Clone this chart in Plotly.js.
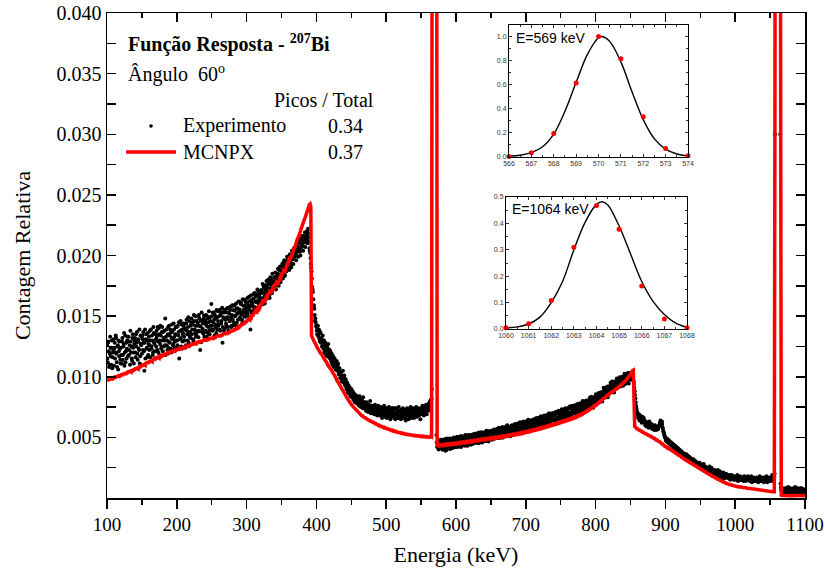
<!DOCTYPE html>
<html>
<head>
<meta charset="utf-8">
<script src="https://cdn.plot.ly/plotly-3.0.1.min.js"></script>
<style>
  html, body { margin: 0; padding: 0; background: #fff; }
  #chart { width: 825px; height: 574px; }
</style>
</head>
<body>
<div id="chart"></div>
<script>
// Spectrum channels are 0.5 keV wide starting at 100 keV; whole-keV channels and
// half-keV channels are kept in two arrays.
const startKeV = 100;
const countUnit = 1e-5; // counts below are stored in units of 1e-5

// Experimental relative counts (black points) at 100, 101, ... 1100 keV
const expCounts = [
  1260,1120,1290,1080,1190,1240,1100,1300,1160,1215,
  1090,1280,1200,1320,1120,1250,1060,1210,1290,1140,
  1240,1110,1320,1180,1270,1090,1340,1210,1150,1300,
  1170,1330,1220,1100,1290,1250,1130,1350,1200,1270,
  1320,1160,1250,1370,1140,1290,1220,1110,1340,1260,
  1190,1310,1370,1210,1280,1150,1350,1240,1300,1180,
  1330,1260,1160,1390,1230,1300,1200,1360,1270,1150,
  1310,1380,1220,1290,1400,1180,1270,1340,1250,1410,
  1210,1320,1380,1260,1180,1390,1300,1350,1240,1420,
  1280,1360,1200,1430,1310,1270,1390,1240,1350,1300,
  1410,1260,1340,1450,1230,1380,1320,1430,1290,1360,
  1440,1300,1390,1260,1470,1350,1410,1280,1460,1370,
  1320,1480,1390,1430,1290,1460,1360,1500,1340,1420,
  1445,1325,1485,1375,1415,1285,1465,1395,1355,1505,
  1370,1440,1510,1330,1480,1410,1540,1350,1460,1390,
  1500,1380,1450,1530,1340,1480,1410,1550,1390,1460,
  1430,1550,1380,1510,1460,1570,1410,1530,1480,1400,
  1530,1420,1490,1570,1380,1520,1460,1580,1410,1510,
  1475,1585,1425,1545,1505,1605,1445,1565,1525,1415,
  1555,1475,1615,1515,1445,1585,1535,1635,1495,1565,
  1540,1650,1570,1490,1620,1580,1670,1530,1610,1520,
  1645,1565,1685,1535,1615,1675,1555,1705,1595,1655,
  1585,1715,1645,1765,1625,1695,1605,1755,1675,1735,
  1690,1800,1730,1650,1820,1760,1710,1850,1780,1740,
  1790,1860,1720,1830,1770,1890,1750,1840,1910,1800,
  1850,1930,1810,1900,1960,1840,1920,1870,1990,1890,
  1940,1880,2010,1950,1900,2040,1970,1930,2060,2000,
  2020,1960,2080,2030,1990,2110,2050,2000,2130,2070,
  2100,2040,2150,2110,2070,2190,2130,2100,2220,2150,
  2060,2020,1930,1870,1740,1700,1580,1560,1460,1450,
  1410,1350,1420,1330,1380,1290,1360,1300,1250,1340,
  1230,1300,1210,1280,1180,1250,1200,1270,1160,1220,
  1210,1130,1190,1100,1170,1080,1150,1120,1060,1130,
  1050,1110,1020,1070,990,1040,960,1010,1050,950,
  1010,930,980,900,950,870,930,860,910,840,
  900,830,880,810,860,790,850,830,780,840,
  820,760,840,790,750,810,770,830,740,790,
  780,720,790,750,710,770,740,800,700,760,
  760,700,740,690,770,720,750,680,740,710,
  730,680,750,700,660,740,710,760,670,720,
  740,660,710,680,750,690,650,720,700,740,
  670,730,700,650,740,690,720,660,750,680,
  710,650,730,690,740,660,700,720,640,710,
  740,680,650,720,700,750,660,710,690,730,
  660,720,700,750,670,710,740,680,720,650,
  730,690,760,710,680,740,720,770,690,750,
  720,780,740,800,760,820,6500,30000,50000,60000,
  55000,20000,520,420,470,400,450,410,480,430,
  460,400,480,430,470,390,450,490,420,460,
  430,490,440,470,410,480,450,500,420,470,
  490,430,480,450,500,440,470,420,510,460,
  450,500,470,430,510,460,490,440,520,470,
  500,460,520,480,450,510,490,530,460,500,
  470,520,490,540,480,510,460,530,500,480,
  530,490,520,470,540,510,550,480,520,500,
  540,500,550,510,530,490,560,520,540,500,
  560,510,540,570,520,550,500,560,530,580,
  530,570,550,590,520,560,540,580,510,570,
  590,550,580,540,600,560,590,530,580,570,
  560,610,580,550,620,590,570,610,560,600,
  620,580,610,570,630,600,580,640,590,610,
  590,640,610,580,650,620,600,660,610,630,
  650,610,660,620,600,670,630,650,610,680,
  640,670,620,690,650,630,680,640,700,660,
  690,640,680,710,650,700,660,720,670,690,
  670,720,690,650,730,700,680,740,690,710,
  730,690,740,700,680,750,710,760,700,730,
  710,760,730,770,720,750,700,780,740,760,
  770,730,790,750,720,780,760,800,740,790,
  760,810,780,820,770,800,750,830,790,810,
  820,790,840,810,860,830,800,870,840,860,
  840,880,860,900,850,890,870,920,880,910,
  890,930,910,950,900,940,920,960,930,950,
  960,930,970,950,990,940,980,960,1000,970,
  990,960,1010,980,1020,990,970,1030,1000,1010,
  990,1030,1000,1020,970,940,880,820,760,720,
  700,660,690,640,680,650,620,670,640,660,
  640,600,630,590,620,610,580,630,600,590,
  610,570,600,590,560,600,580,560,590,570,
  580,600,620,640,610,630,580,550,530,510,
  500,470,490,460,480,450,470,440,460,430,
  450,420,440,410,430,400,420,390,410,400,
  400,380,390,360,380,350,370,340,360,350,
  360,330,350,320,340,310,330,300,320,310,
  320,290,310,280,300,270,290,280,260,290,
  280,250,270,240,260,280,240,260,230,250,
  250,220,240,260,210,230,250,200,230,220,
  230,200,220,190,210,230,180,200,220,190,
  200,170,190,210,160,190,180,200,170,190,
  180,160,190,150,170,190,160,180,150,170,
  180,150,170,190,140,170,160,180,150,170,
  150,170,140,180,160,140,170,150,180,160,
  170,140,160,180,130,160,150,170,140,160,
  140,170,150,130,160,180,140,160,150,170,
  160,130,170,150,140,180,130,160,150,170,
  150,170,140,190,160,180,170,3000,18000,30000,
  36000,40000,38000,30000,9000,120,70,60,80,50,
  70,50,80,60,40,70,90,50,60,80,
  60,40,70,80,50,60,90,50,70,60,
  80,50,60,70,40,80,60,50,70,60,
  70
];

// Experimental relative counts at the half-keV channels 100.5, 101.5, ... 1099.5 keV
const expHalfCounts = [
  1150,1280,1210,1100,1330,1170,1240,1070,1200,1310,
  1230,1150,1340,1190,1080,1260,1300,1170,1230,1110,
  1180,1290,1140,1250,1360,1200,1120,1280,1230,1330,
  1290,1180,1260,1380,1200,1150,1320,1240,1110,1300,
  1200,1350,1280,1190,1310,1230,1390,1170,1270,1330,
  1340,1220,1280,1050,1390,1310,1230,1160,1360,1270,
  1220,1380,1300,1250,1340,1180,1410,1280,1210,1350,
  1250,1330,1410,1200,1350,1300,1420,1230,1370,1300,
  1370,1250,1300,1480,1330,1260,1220,1410,1290,1340,
  1390,1230,1320,1370,1260,1440,1330,1290,1410,1230,
  1300,1420,1370,1150,1310,1460,1250,1390,1350,1420,
  1330,1400,1240,1440,1380,1300,1490,1360,1330,1420,
  1430,1350,1450,1310,1510,1390,1420,1330,1460,1370,
  1380,1510,1420,1220,1460,1530,1370,1440,1480,1330,
  1460,1380,1420,1500,1360,1450,1380,1490,1420,1600,
  1420,1530,1390,1470,1510,1430,1360,1490,1540,1420,
  1500,1390,1530,1440,1560,1280,1490,1380,1550,1470,
  1440,1560,1480,1410,1530,1460,1550,1490,1420,1590,
  1550,1450,1590,1500,1420,1560,1520,1470,1620,1540,
  1490,1600,1530,1470,1640,1550,1500,1590,1620,1520,
  1610,1520,1590,1660,1550,1390,1630,1600,1540,1680,
  1580,1690,1620,1660,1570,1720,1630,1600,1680,1620,
  1700,1630,1690,1600,1740,1660,1720,1680,1790,1710,
  1760,1710,1670,1780,1730,1800,1690,1770,1730,1820,
  1740,1820,1800,1760,1850,1800,1880,1810,1780,1870,
  1880,1820,1940,1860,1830,1920,1890,1950,1910,1970,
  1910,1990,1920,2000,1970,1930,2010,2050,1990,2030,
  2060,2000,2100,2060,2130,2070,2030,2140,2090,2160,
  2080,2160,2120,2190,2130,2160,2200,2120,2180,2110,
  2040,1980,1900,1810,1720,1640,1590,1510,1480,1420,
  1380,1420,1340,1390,1310,1370,1280,1320,1290,1270,
  1270,1200,1260,1220,1240,1170,1230,1190,1210,1150,
  1160,1180,1110,1140,1120,1100,1090,1060,1100,1080,
  1090,1060,1040,1020,1030,990,1000,980,970,990,
  960,970,920,940,890,910,880,900,870,860,
  860,870,840,820,830,840,800,810,820,790,
  780,800,810,760,780,790,740,790,770,750,
  750,760,730,770,740,730,760,720,750,740,
  720,740,710,760,700,730,720,710,760,690,
  700,720,690,730,710,690,680,720,700,740,
  700,720,680,730,670,720,700,680,740,670,
  710,680,740,690,700,660,720,700,680,720,
  680,720,670,700,690,720,680,660,730,690,
  690,710,700,670,730,680,720,700,740,670,
  710,680,730,690,720,680,700,730,690,740,
  700,740,710,690,750,720,700,730,760,720,
  760,750,790,770,810,900,15000,40000,55000,58000,
  40000,6000,460,450,430,460,420,470,440,450,
  400,475,430,485,410,460,395,470,440,480,
  480,405,465,425,490,415,475,435,495,420,
  445,505,420,475,500,435,510,425,485,455,
  435,510,465,520,445,495,430,505,475,515,
  515,440,500,460,525,450,510,470,530,455,
  477,537,452,507,532,467,542,457,517,487,
  470,545,500,555,480,530,465,540,510,550,
  555,480,540,500,565,490,550,510,570,495,
  520,580,495,550,575,510,585,500,560,530,
  515,590,545,600,525,575,510,585,555,595,
  600,525,585,545,610,535,595,555,615,540,
  565,625,540,595,620,555,630,545,605,575,
  560,635,590,645,570,620,555,630,600,640,
  647,572,632,592,657,582,642,602,662,587,
  615,675,590,645,670,605,680,595,655,625,
  613,688,643,698,623,673,608,683,653,693,
  702,627,687,647,712,637,697,657,717,642,
  672,732,647,702,727,662,737,652,712,682,
  672,747,702,757,682,732,667,742,712,752,
  765,690,750,710,775,700,760,720,780,705,
  740,800,715,770,795,730,805,720,780,750,
  750,825,780,835,760,810,745,820,790,830,
  855,780,840,800,865,790,850,810,870,795,
  850,910,825,880,905,840,915,830,890,860,
  875,950,905,960,885,935,870,945,915,955,
  985,910,970,930,995,920,980,940,1000,925,
  965,1025,940,995,1020,955,1030,945,1005,975,
  1010,1000,1030,1000,960,910,850,790,740,710,
  680,670,660,660,650,660,640,650,630,640,
  620,620,610,610,600,600,600,610,590,600,
  590,590,580,580,590,570,580,570,580,570,
  590,600,610,620,600,610,570,540,520,500,
  480,480,470,470,460,460,450,450,440,440,
  430,430,420,420,410,410,400,400,400,390,
  390,370,380,370,360,360,350,360,340,350,
  340,340,330,330,320,320,320,310,310,300,
  300,300,300,290,280,290,270,280,270,270,
  260,270,250,260,250,250,250,240,240,240,
  230,240,230,220,230,220,220,220,210,210,
  210,210,200,210,200,200,200,190,190,190,
  180,190,180,180,190,170,170,180,180,170,
  170,170,160,170,160,160,170,160,160,160,
  160,160,150,160,160,150,160,150,160,150,
  160,150,160,150,160,150,150,160,150,150,
  150,150,150,140,160,140,150,150,140,150,
  160,140,150,150,140,150,160,140,150,140,
  150,160,140,150,160,140,150,160,150,140,
  160,150,160,150,170,160,200,8000,25000,34000,
  39000,41000,36000,22000,3000,90,60,70,50,60,
  60,70,50,80,60,50,70,60,70,50,
  70,60,50,70,60,80,50,60,70,60,
  50,70,60,80,60,50,70,60,50,70
];

// MCNPX simulated relative counts (red line) at 100, 101, ... 1100 keV
const mcnpxCounts = [
  960,980,965,990,975,985,1000,970,995,985,
  990,1005,985,1010,1000,995,1015,1000,1020,1005,
  1010,1025,1005,1030,1020,1015,1035,1025,1040,1030,
  1035,1050,1030,1055,1045,1040,1060,1050,1065,1055,
  1060,1075,1055,1080,1070,1065,1090,1075,1095,1085,
  1090,1105,1085,1110,1100,1095,1120,1105,1125,1110,
  1120,1135,1115,1140,1130,1125,1150,1135,1155,1140,
  1150,1165,1145,1170,1160,1155,1180,1165,1185,1170,
  1175,1190,1170,1195,1185,1180,1200,1190,1210,1195,
  1200,1215,1195,1220,1205,1200,1225,1210,1230,1215,
  1220,1235,1215,1240,1225,1220,1245,1230,1250,1235,
  1240,1255,1235,1260,1245,1240,1265,1250,1270,1255,
  1260,1275,1255,1280,1265,1260,1285,1270,1290,1275,
  1280,1295,1275,1300,1285,1280,1305,1290,1310,1295,
  1295,1310,1290,1315,1300,1295,1320,1305,1325,1310,
  1310,1325,1305,1330,1320,1315,1340,1325,1345,1330,
  1330,1345,1325,1350,1340,1335,1360,1345,1365,1350,
  1350,1365,1345,1370,1360,1355,1380,1365,1385,1370,
  1370,1390,1375,1400,1390,1385,1410,1400,1420,1405,
  1410,1430,1415,1440,1430,1425,1450,1440,1460,1450,
  1455,1475,1460,1485,1475,1470,1495,1490,1510,1500,
  1515,1535,1520,1545,1540,1535,1560,1555,1575,1570,
  1590,1610,1595,1620,1615,1610,1640,1635,1655,1650,
  1670,1690,1675,1700,1695,1690,1720,1715,1735,1730,
  1750,1770,1755,1780,1775,1770,1800,1800,1820,1815,
  1840,1860,1850,1875,1870,1870,1900,1905,1925,1925,
  1950,1970,1965,1990,1995,2000,2030,2035,2060,2065,
  2090,2110,2115,2140,2150,2160,2185,2195,2220,2230,
  2250,2270,2280,2300,2315,2335,2355,2370,2395,2410,
  2420,2425,2400,1340,1320,1310,1300,1290,1275,1265,
  1255,1243,1232,1226,1211,1206,1193,1190,1174,1171,
  1160,1148,1141,1133,1121,1116,1099,1096,1081,1076,
  1070,1058,1052,1038,1032,1018,1012,998,992,974,
  966,958,947,938,927,913,907,893,887,873,
  866,853,847,833,822,813,802,793,787,778,
  771,763,757,748,742,733,727,720,717,708,
  706,698,697,688,687,678,678,670,670,662,
  662,654,654,648,648,640,642,634,636,628,
  630,622,624,616,618,610,612,604,606,598,
  600,594,594,588,590,584,586,578,582,574,
  577,570,572,566,568,562,564,558,560,554,
  558,550,554,546,550,543,546,540,542,538,
  540,534,538,531,534,528,532,526,529,524,
  527,522,524,520,522,518,521,516,519,514,
  518,513,516,511,515,510,513,508,512,507,
  511,506,510,505,509,504,508,503,507,502,
  506,501,505,500,504,502,6000,30000,60000,70000,
  60000,15000,460,430,434,430,435,431,436,432,
  433,439,435,440,436,442,437,443,439,444,
  440,446,442,447,443,449,444,450,446,451,
  446,452,448,454,450,456,452,458,454,459,
  454,460,456,462,458,464,460,466,462,467,
  463,469,465,471,467,473,469,475,471,476,
  472,478,474,480,476,482,478,484,480,485,
  481,487,483,489,485,490,486,492,488,493,
  489,495,491,496,492,498,494,500,496,501,
  497,503,499,505,501,507,503,509,505,511,
  507,513,509,515,511,517,513,519,515,521,
  517,523,519,525,521,527,524,530,526,532,
  528,534,530,537,533,539,535,542,538,544,
  541,547,544,550,546,553,549,555,552,558,
  555,561,558,564,561,567,564,570,567,573,
  570,577,573,580,576,583,580,586,583,590,
  587,594,590,597,594,600,597,604,601,607,
  604,611,608,614,611,618,615,621,618,625,
  622,629,626,633,630,637,633,640,637,644,
  641,648,645,652,649,657,654,661,658,665,
  662,670,667,675,672,680,678,685,683,690,
  688,696,695,703,702,710,709,717,716,724,
  723,731,731,739,739,747,747,755,755,763,
  763,772,772,781,781,790,790,799,799,808,
  813,821,822,830,831,839,840,848,849,857,
  858,866,866,874,874,882,882,890,890,898,
  898,907,908,917,918,927,928,937,938,947,
  948,958,960,970,972,982,986,998,1002,1014,
  1020,1034,1042,1052,1055,610,590,585,575,572,
  572,564,565,557,558,550,551,543,544,536,
  537,530,531,524,525,518,519,512,513,506,
  507,499,500,492,493,485,486,478,479,471,
  472,463,463,454,454,445,445,436,436,427,
  427,419,420,412,413,405,406,398,399,391,
  392,384,384,376,376,368,368,360,360,352,
  352,344,344,336,336,328,328,320,320,312,
  312,305,305,298,298,291,291,284,284,277,
  277,270,270,263,263,256,256,249,249,242,
  242,235,235,228,228,221,221,214,214,207,
  207,200,200,193,193,186,186,179,179,172,
  172,166,166,160,160,154,154,148,148,142,
  142,136,137,131,132,126,127,121,122,116,
  117,112,113,109,110,105,106,102,103,99,
  99,96,97,94,95,92,93,90,91,88,
  89,86,87,84,85,83,84,81,82,80,
  81,78,79,76,77,75,76,73,74,72,
  71,68,69,66,67,65,66,63,64,62,
  61,58,59,57,58,56,57,55,56,54,
  55,53,54,52,53,51,52,3500,20000,32000,
  38000,40000,38000,30000,8000,25,22,20,21,20,
  21,20,22,20,21,19,20,22,21,20,
  20,21,19,20,22,20,21,20,19,21,
  21,20,22,21,20,19,21,20,22,20,
  20
];

// Inset: 569 keV photopeak (normalised)
const peak569E = [566, 567, 568, 569, 570, 571, 572, 573, 574];
const peak569Y = [0.005, 0.035, 0.195, 0.615, 1.0, 0.815, 0.335, 0.07, 0.01];
const fit569E = [566, 566.5, 567, 567.5, 568, 568.5, 569, 569.5, 570, 570.15, 570.5, 571, 571.5, 572, 572.5, 573, 573.5, 574];
const fit569Y = [0.008, 0.015, 0.036, 0.085, 0.19, 0.38, 0.62, 0.85, 0.99, 1.0, 0.96, 0.79, 0.54, 0.31, 0.15, 0.065, 0.025, 0.008];

// Inset: 1064 keV photopeak (normalised)
const peak1064E = [1060, 1061, 1062, 1063, 1064, 1065, 1066, 1067, 1068];
const peak1064Y = [0.005, 0.02, 0.108, 0.31, 0.468, 0.378, 0.163, 0.038, 0.005];
const fit1064E = [1060, 1060.5, 1061, 1061.5, 1062, 1062.5, 1063, 1063.5, 1064, 1064.25, 1064.5, 1065, 1065.5, 1066, 1066.5, 1067, 1067.5, 1068];
const fit1064Y = [0.004, 0.008, 0.019, 0.045, 0.1, 0.18, 0.3, 0.405, 0.472, 0.482, 0.47, 0.39, 0.285, 0.18, 0.105, 0.055, 0.022, 0.006];

// Peak-to-total ratios
const seriesNames = ['Experimento', 'MCNPX'];
const peakToTotal = ['0.34', '0.37'];

const xTickVals = [100, 200, 300, 400, 500, 600, 700, 800, 900, 1000, 1100];
const yTickVals = [0.005, 0.010, 0.015, 0.020, 0.025, 0.030, 0.035, 0.040];

const expE = expCounts.map((_, i) => startKeV + i)
  .concat(expHalfCounts.map((_, i) => startKeV + i + 0.5));
const expY = expCounts.concat(expHalfCounts).map(v => v * countUnit);
const simE = mcnpxCounts.map((_, i) => startKeV + i);
const simY = mcnpxCounts.map(v => v * countUnit);

const serif = '"Times New Roman", "Liberation Serif", Times, serif';
const sans = '"Liberation Sans", Arial, sans-serif';

const traces = [
  { x: expE, y: expY, type: 'scatter', mode: 'markers', name: seriesNames[0],
    marker: { color: '#000', size: 4 }, showlegend: false, hoverinfo: 'skip' },
  { x: simE, y: simY, type: 'scatter', mode: 'lines', name: seriesNames[1],
    line: { color: '#ff0000', width: 3.5 }, showlegend: false, hoverinfo: 'skip' },
  // carrier for the top mirror axis
  { x: [100], y: [0], xaxis: 'x2', yaxis: 'y', type: 'scatter', mode: 'markers',
    marker: { opacity: 0 }, showlegend: false, hoverinfo: 'skip' },
  // inset 569 keV
  { x: fit569E, y: fit569Y, xaxis: 'x3', yaxis: 'y3', type: 'scatter', mode: 'lines',
    line: { color: '#000', width: 1.4, shape: 'spline' }, showlegend: false, hoverinfo: 'skip', cliponaxis: false },
  { x: peak569E, y: peak569Y, xaxis: 'x3', yaxis: 'y3', type: 'scatter', mode: 'markers',
    marker: { color: '#ff0000', size: 5 }, showlegend: false, hoverinfo: 'skip', cliponaxis: false },
  // inset 1064 keV
  { x: fit1064E, y: fit1064Y, xaxis: 'x4', yaxis: 'y4', type: 'scatter', mode: 'lines',
    line: { color: '#000', width: 1.4, shape: 'spline' }, showlegend: false, hoverinfo: 'skip', cliponaxis: false },
  { x: peak1064E, y: peak1064Y, xaxis: 'x4', yaxis: 'y4', type: 'scatter', mode: 'markers',
    marker: { color: '#ff0000', size: 5 }, showlegend: false, hoverinfo: 'skip', cliponaxis: false }
];

const L = 107, R = 805, T = 13, B = 498, W = 825, H = 574;
const px = v => (v - L) / (R - L);
const py = v => (B - v) / (B - T);

function insetX(range, d0, d1, anchor) {
  return {
    domain: [px(d0), px(d1)], anchor: anchor, range: range, dtick: 1,
    showline: true, linecolor: '#000', linewidth: 1, mirror: 'allticks',
    ticks: 'inside', ticklen: 3, tickwidth: 0.8, tickcolor: '#000',
    minor: { dtick: 0.5, ticks: 'inside', ticklen: 2, tickwidth: 0.8, tickcolor: '#000' },
    tickfont: { family: sans, size: 7, color: '#333' },
    showgrid: false, zeroline: false
  };
}
function insetY(range, dt, top, bottom, anchor) {
  return {
    domain: [py(bottom), py(top)], anchor: anchor, range: range, dtick: dt, tickformat: '.1f',
    showline: true, linecolor: '#000', linewidth: 1, mirror: 'allticks',
    ticks: 'inside', ticklen: 3, tickwidth: 0.8, tickcolor: '#000',
    minor: { dtick: dt / 2, ticks: 'inside', ticklen: 2, tickwidth: 0.8, tickcolor: '#000' },
    tickfont: { family: sans, size: 7, color: '#333' },
    showgrid: false, zeroline: false
  };
}

const ann = (text, x, y, opts) => Object.assign({
  text: text, x: px(x), y: py(y), xref: 'paper', yref: 'paper',
  xanchor: 'left', yanchor: 'middle', showarrow: false,
  font: { family: serif, size: 20, color: '#000' }
}, opts || {});

const layout = {
  width: W, height: H,
  margin: { l: L, r: W - R, t: T, b: H - B },
  paper_bgcolor: '#fff', plot_bgcolor: '#fff',
  font: { family: serif, color: '#000' },
  showlegend: false,
  xaxis: {
    range: [100, 1100], tickvals: xTickVals, ticktext: xTickVals.map(String),
    ticks: 'outside', ticklen: 9, tickwidth: 1.5, tickcolor: '#000',
    minor: { dtick: 50, tick0: 100, ticks: 'outside', ticklen: 5, tickwidth: 1.5, tickcolor: '#000' },
    showline: true, linecolor: '#000', linewidth: 1.5, mirror: false,
    showgrid: false, zeroline: false,
    tickfont: { family: serif, size: 19, color: '#000' },
    title: { text: 'Energia (keV)', font: { family: serif, size: 22, color: '#000' }, standoff: 12 }
  },
  xaxis2: {
    overlaying: 'x', side: 'top', anchor: 'y', range: [100, 1100], dtick: 100, tick0: 100,
    ticks: 'inside', ticklen: 9, tickwidth: 1.5, tickcolor: '#000', showticklabels: false,
    minor: { dtick: 50, tick0: 100, ticks: 'inside', ticklen: 5, tickwidth: 1.5, tickcolor: '#000' },
    showline: true, linecolor: '#000', linewidth: 1.5, showgrid: false, zeroline: false
  },
  yaxis: {
    range: [0, 0.04], tickvals: yTickVals, tickformat: '.3f',
    ticks: 'inside', ticklen: 9, tickwidth: 1.5, tickcolor: '#000',
    minor: { dtick: 0.0025, tick0: 0, ticks: 'inside', ticklen: 5, tickwidth: 1.5, tickcolor: '#000' },
    showline: true, linecolor: '#000', linewidth: 1.5, mirror: 'allticks',
    showgrid: false, zeroline: false,
    tickfont: { family: serif, size: 20, color: '#000' },
    title: { text: 'Contagem Relativa', font: { family: serif, size: 22, color: '#000' }, standoff: 20 }
  },
  xaxis3: insetX([566, 574], 509, 688, 'y3'),
  yaxis3: insetY([0, 1.1], 0.2, 24.5, 157, 'x3'),
  xaxis4: insetX([1060, 1068], 506, 687, 'y4'),
  yaxis4: insetY([0, 0.5], 0.1, 197, 329, 'x4'),
  annotations: [
    ann('<b>Função Resposta - <sup>207</sup>Bi</b>', 126, 43),
    ann('Ângulo&nbsp;&nbsp;60<sup>o</sup>', 126, 73),
    ann('Picos / Total', 272, 100),
    ann(seriesNames[0], 181, 126),
    ann(peakToTotal[0], 326, 126),
    ann(seriesNames[1], 181, 152),
    ann(peakToTotal[1], 326, 152),
    ann('E=569 keV', 514, 38, { font: { family: sans, size: 14, color: '#000' } }),
    ann('E=1064 keV', 510, 209, { font: { family: sans, size: 14, color: '#000' } })
  ],
  shapes: [
    { type: 'circle', xref: 'paper', yref: 'paper',
      x0: px(149.2), x1: px(152.8), y0: py(127.8), y1: py(124.2),
      fillcolor: '#000', line: { width: 0 } },
    { type: 'line', xref: 'paper', yref: 'paper',
      x0: px(126), x1: px(176), y0: py(152), y1: py(152),
      line: { color: '#ff0000', width: 3.5 } }
  ]
};

Plotly.newPlot('chart', traces, layout, { staticPlot: true, displayModeBar: false });
</script>
</body>
</html>
